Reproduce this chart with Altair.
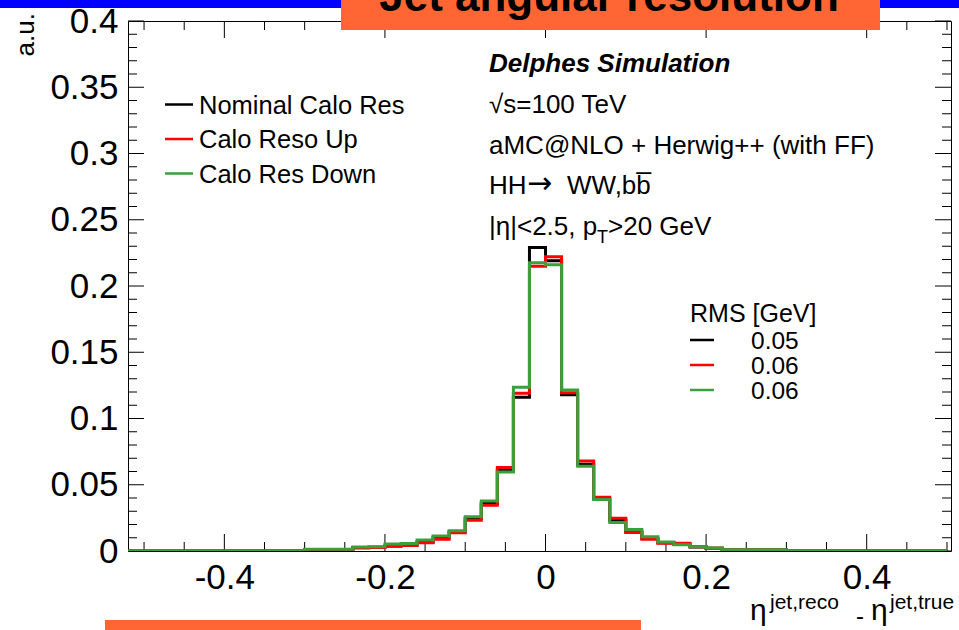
import altair as alt
import numpy as np
import pandas as pd

# ---------------- data ----------------
series_names = ["Nominal Calo Res", "Calo Reso Up", "Calo Res Down"]
series_colors = ["#000000", "#ff0000", "#3c9f3c"]
rms_values = ["0.05", "0.06", "0.06"]

# left edges of the populated bins (bin width 0.02), from -0.30 to 0.28
core_left_edges = [-0.30, -0.28, -0.26, -0.24, -0.22, -0.20, -0.18, -0.16, -0.14, -0.12,
                   -0.10, -0.08, -0.06, -0.04, -0.02, 0.00, 0.02, 0.04, 0.06, 0.08,
                   0.10, 0.12, 0.14, 0.16, 0.18, 0.20, 0.22, 0.24, 0.26, 0.28]
nominal = [0.0010, 0.0010, 0.0012, 0.0025, 0.0028, 0.0038, 0.0045, 0.0068, 0.0103, 0.0145,
           0.0248, 0.0358, 0.0610, 0.1160, 0.2290, 0.2190, 0.1180, 0.0654, 0.0395, 0.0233,
           0.0143, 0.0095, 0.0062, 0.0050, 0.0030, 0.0020, 0.0008, 0.0008, 0.0008, 0.0008]
reso_up = [0.0010, 0.0010, 0.0012, 0.0025, 0.0027, 0.0036, 0.0042, 0.0063, 0.0088, 0.0138,
           0.0233, 0.0346, 0.0630, 0.1190, 0.2150, 0.2220, 0.1195, 0.0680, 0.0405, 0.0247,
           0.0140, 0.0088, 0.0058, 0.0058, 0.0032, 0.0020, 0.0008, 0.0008, 0.0008, 0.0008]
reso_down = [0.0013, 0.0013, 0.0014, 0.0030, 0.0032, 0.0052, 0.0056, 0.0083, 0.0113, 0.0153,
             0.0258, 0.0378, 0.0596, 0.1235, 0.2175, 0.2160, 0.1215, 0.0640, 0.0389, 0.0216,
             0.0163, 0.0108, 0.0068, 0.0048, 0.0033, 0.0023, 0.0010, 0.0010, 0.0010, 0.0010]
series_values = [nominal, reso_up, reso_down]

hist_lo, hist_hi = -0.52, 0.50   # full histogram range (empty bins outside the core)

x_major = [-0.4, -0.2, 0, 0.2, 0.4]
x_minor = [-0.5, -0.45, -0.35, -0.3, -0.25, -0.15, -0.1, -0.05,
           0.05, 0.1, 0.15, 0.25, 0.3, 0.35, 0.45, 0.5]
y_major = [0, 0.05, 0.1, 0.15, 0.2, 0.25, 0.3, 0.35, 0.4]
y_minor = [round(i * 0.01, 2) for i in range(41) if i % 5]

# ---------------- layout ----------------
L, T, R, B = 128, 21, 8, 79
W, H = 959 - L - R, 630 - T - B
FONT = "Liberation Sans"

xscale = alt.Scale(domain=[-0.52, 0.505], nice=False, zero=False)
yscale = alt.Scale(domain=[0, 0.4], nice=False, zero=False)
xaxis = alt.Axis(values=x_major, ticks=False, domain=False, grid=False, title=None,
                 labelFontSize=35, labelPadding=9, labelFont=FONT, labelColor="black",
                 labelFlush=False, labelOverlap=False, labelExpr="toString(datum.value)")
yaxis = alt.Axis(values=y_major, ticks=False, domain=False, grid=False, title=None,
                 labelFontSize=35, labelPadding=10, labelFont=FONT, labelColor="black",
                 labelFlush=False, labelOverlap=False, labelExpr="toString(datum.value)")

one = pd.DataFrame({"k": [0]})
layers = []

# ---- inward ticks on all four sides ----
def x_ticks(vals, length):
    df = pd.DataFrame({"x": vals})
    out = []
    for y0, y1 in [(H, H - length), (0, length)]:
        out.append(alt.Chart(df).mark_rule(color="black", strokeWidth=1).encode(
            x=alt.X("x:Q", scale=xscale, axis=xaxis),
            y=alt.value(y0), y2=alt.value(y1)))
    return out

def y_ticks(vals, length):
    df = pd.DataFrame({"y": vals})
    out = []
    for x0, x1 in [(0, length), (W, W - length)]:
        out.append(alt.Chart(df).mark_rule(color="black", strokeWidth=1).encode(
            y=alt.Y("y:Q", scale=yscale, axis=yaxis),
            x=alt.value(x0), x2=alt.value(x1)))
    return out

layers += x_ticks(x_major, 17) + x_ticks(x_minor, 9)
layers += y_ticks(y_major, 16) + y_ticks(y_minor, 9)

# ---- histograms (step lines) ----
left_edges = list(np.round(np.arange(hist_lo, hist_hi - 0.01, 0.02), 2))
for name, color, vals in zip(series_names, series_colors, series_values):
    lookup = {round(e, 2): v for e, v in zip(core_left_edges, vals)}
    ys = [lookup.get(round(float(e), 2), 0.0) for e in left_edges]
    df = pd.DataFrame({"x": [float(e) for e in left_edges] + [hist_hi],
                       "y": ys + [ys[-1]]})
    layers.append(alt.Chart(df).mark_line(interpolate="step-after", strokeWidth=3,
                                          color=color, clip=True).encode(
        x=alt.X("x:Q", scale=xscale, axis=xaxis),
        y=alt.Y("y:Q", scale=yscale, axis=yaxis)))

# ---- helpers for annotations (pixel positions in page coordinates) ----
def txt(s, x, y, size, align="left", baseline="alphabetic", font=FONT, **kw):
    return alt.Chart(one).mark_text(text=s, fontSize=size, font=font, align=align,
                                    baseline=baseline, color="black", **kw).encode(
        x=alt.value(x - L), y=alt.value(y - T))

def hline(x0, x1, y, color, width):
    return alt.Chart(one).mark_rule(color=color, strokeWidth=width).encode(
        x=alt.value(x0 - L), x2=alt.value(x1 - L), y=alt.value(y - T))

def box(x0, x1, y0, y1, color):
    return alt.Chart(one).mark_rect(color=color).encode(
        x=alt.value(x0 - L), x2=alt.value(x1 - L), y=alt.value(y0 - T), y2=alt.value(y1 - T))

# ---- info text block ----
TS = 26
layers.append(txt("Delphes Simulation", 489, 72, TS, fontWeight="bold", fontStyle="italic"))
layers.append(txt("√s=100 TeV", 489, 113, TS))
layers.append(txt("aMC@NLO + Herwig++ (with FF)", 489, 153.5, TS))
layers.append(txt("HH", 489, 194, TS))
layers.append(txt("→", 527, 193, 30, font="DejaVu Sans"))
layers.append(txt("WW,bb\u0305", 567, 194, TS))
layers.append(txt("|η|<2.5, p", 489, 235, TS))
layers.append(txt("T", 597, 243, 18))
layers.append(txt(">20 GeV", 608, 235, TS))

# ---- legend 1 ----
for i, (name, color) in enumerate(zip(series_names, series_colors)):
    yb = 113.5 + i * 34.5
    layers.append(hline(165, 193, yb - 9, color, 2.5))
    layers.append(txt(name, 199, yb, 25.5))

# ---- RMS legend ----
layers.append(txt("RMS [GeV]", 690, 322, 25))
for i, (val, color) in enumerate(zip(rms_values, series_colors)):
    yb = 348.8 + i * 25
    layers.append(hline(690, 714, yb - 8.8, color, 2.5))
    layers.append(txt(val, 751, yb, 24.5))

# ---- axis titles ----
layers.append(txt("η", 750, 620, 30))
layers.append(txt("jet,reco", 770, 609, 21))
layers.append(txt("-", 856, 624, 24))
layers.append(txt("η", 871, 620, 30))
layers.append(txt("jet,true", 890, 609, 21))
layers.append(txt("a.u.", 34, 13, 26, align="right", angle=270))

# ---- slide decorations ----
layers.append(box(0, 959, 0, 8, "#0000ff"))
layers.append(box(341, 880, 0, 30, "#ff6633"))
layers.append(txt("Jet angular resolution", 609, 11, 44, align="center", fontWeight="bold"))
layers.append(box(105, 641, 620, 630, "#ff6633"))

chart = alt.layer(*layers).properties(
    width=W, height=H,
    padding={"left": L, "top": T, "right": R, "bottom": B},
    autosize=alt.AutoSizeParams(type="none"),
    background="white",
).configure_view(stroke="black", strokeWidth=1)

chart.save("out.html", embed_options={"renderer": "svg", "actions": False})
